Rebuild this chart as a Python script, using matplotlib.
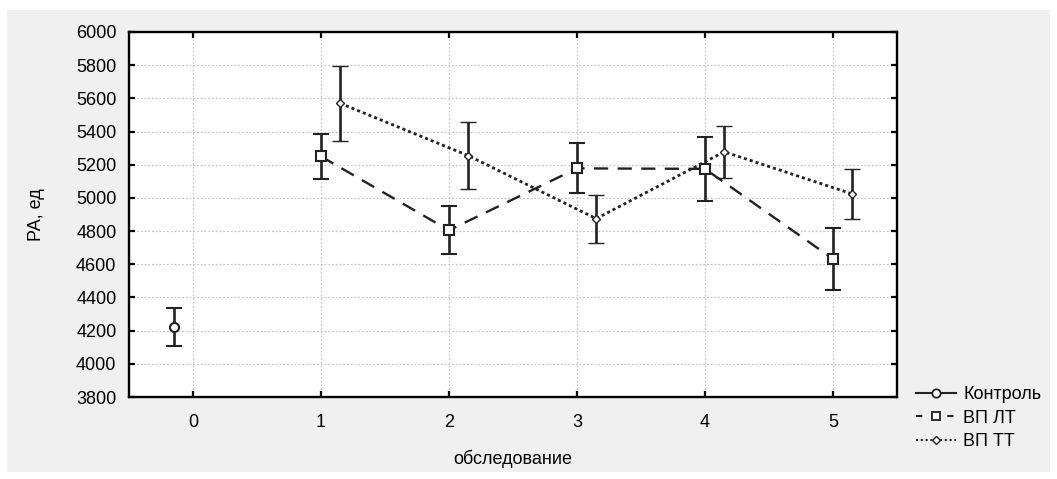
import matplotlib.pyplot as plt
from matplotlib.lines import Line2D
from matplotlib.patches import Rectangle

plt.rcParams['font.family'] = ['Liberation Sans', 'DejaVu Sans']

# data
visits = [0, 1, 2, 3, 4, 5]
control_x = [0]
control_y = [4220]
control_err = [115]

lt_x = [1, 2, 3, 4, 5]
lt_y = [5250, 4805, 5178, 5175, 4632]
lt_err = [135, 145, 150, 195, 188]

tt_x = [1, 2, 3, 4, 5]
tt_y = [5570, 5255, 4875, 5278, 5024]
tt_err = [228, 203, 145, 157, 152]

shift = 0.15

fig = plt.figure(figsize=(10.57, 4.79), dpi=100, facecolor='white')
fig.patches.append(Rectangle((7 / 1057, 7 / 479), 1043 / 1057, 462 / 479,
                             transform=fig.transFigure, facecolor='#f0f0f0',
                             edgecolor='none', zorder=-10))
ax = fig.add_axes([129 / 1057, 82 / 479, 768 / 1057, 365 / 479])

err_kw = dict(ecolor='#222222', elinewidth=1.9, capsize=5.5, capthick=1.9, color='#222222')

ax.errorbar([x - shift for x in control_x], control_y, yerr=control_err, fmt='-o',
            ms=6.5, mfc='white', mec='#222222', mew=1.5, lw=1.5, **err_kw)
ax.errorbar(lt_x, lt_y, yerr=lt_err, fmt='s', ls=(0, (6, 4)), lw=1.7,
            ms=7, mfc='white', mec='#222222', mew=1.5, **err_kw)
ax.errorbar([x + shift for x in tt_x], tt_y, yerr=tt_err, fmt='D', ls=(0, (1.1, 1.1)), lw=2.0,
            ms=4, mfc='white', mec='#222222', mew=1.0, **err_kw)

ax.set_xlim(-0.5, 5.5)
ax.set_ylim(3800, 6000)
ax.set_xticks(visits)
ax.set_yticks(range(3800, 6001, 200))
ax.grid(True, ls=(0, (1.5, 1.5)), color='#c8c8c8', lw=0.9)
ax.set_axisbelow(True)
ax.tick_params(direction='in', top=True, right=True, length=4, width=1.6, labelsize=13, pad=9)
ax.tick_params(axis='x', pad=12)
for s in ax.spines.values():
    s.set_linewidth(1.7)

ax.set_xlabel('обследование', fontsize=13, labelpad=14)
ax.set_ylabel('РА, ед', fontsize=13, labelpad=22)

handles = [
    Line2D([], [], color='#222222', ls='-', lw=1.5, marker='o', ms=6, mfc='white', mew=1.3),
    Line2D([], [], color='#222222', ls=(0, (3, 4.5)), lw=1.5, marker='s', ms=6, mfc='white', mew=1.3),
    Line2D([], [], color='#222222', ls=(0, (1, 1.3)), lw=1.5, marker='D', ms=4, mfc='white', mew=1.0),
]
fig.legend(handles, ['Контроль', 'ВП ЛТ', 'ВП ТТ'], loc='upper left',
           bbox_to_anchor=(900 / 1057, 1 - 370 / 479), frameon=False, fontsize=13,
           handlelength=2.2, handletextpad=0.4, labelspacing=0.35)

fig.savefig('out.png', dpi=100, facecolor=fig.get_facecolor())
